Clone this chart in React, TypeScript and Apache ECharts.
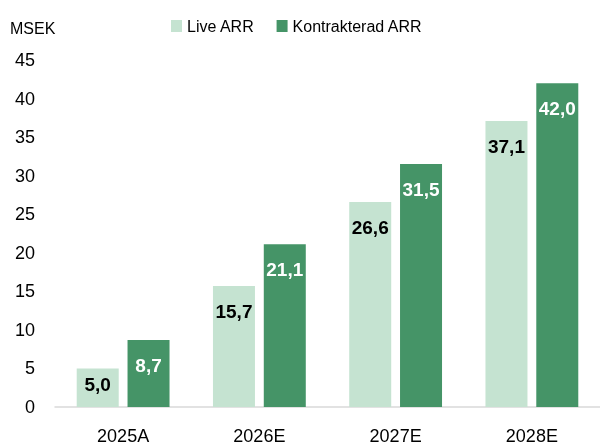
import React, { useEffect, useRef } from "react";
import * as echarts from "echarts";

const categories = ["2025A", "2026E", "2027E", "2028E"];
const liveArr = [5.0, 15.7, 26.6, 37.1];
const kontrakteradArr = [8.7, 21.1, 31.5, 42.0];
const seriesNames = ["Live ARR", "Kontrakterad ARR"];
const unitLabel = "MSEK";

const FONT = "'Liberation Sans', Arial, sans-serif";
const fmt = (v: number) => v.toFixed(1).replace(".", ",");

export default function App() {
  const ref = useRef<HTMLDivElement>(null);
  useEffect(() => {
    if (!ref.current) return;
    const chart = echarts.init(ref.current, undefined, { renderer: "svg" });
    const labelBase = {
      show: true,
      position: "insideTop",
      distance: 16,
      formatter: (p: any) => fmt(p.value),
      fontFamily: FONT,
      fontSize: 19,
      fontWeight: "bold",
    };
    chart.setOption({
      animation: false,
      textStyle: { fontFamily: FONT },
      legend: {
        data: seriesNames,
        left: 166,
        top: 13,
        itemWidth: 11,
        itemHeight: 12,
        itemGap: 22,
        icon: "rect",
        textStyle: { fontFamily: FONT, fontSize: 16, color: "#000" },
      },
      graphic: [
        {
          type: "text",
          left: 10,
          top: 20,
          style: { text: unitLabel, font: `16px ${FONT}`, fill: "#000" },
        },
      ],
      grid: { left: 55, top: 60, width: 548, bottom: 37 },
      xAxis: {
        type: "category",
        data: categories,
        axisLine: { show: true, lineStyle: { color: "#d9d9d9", width: 1.5 } },
        axisTick: { show: false },
        axisLabel: { fontFamily: FONT, fontSize: 18, color: "#000", margin: 20 },
      },
      yAxis: {
        type: "value",
        min: 0,
        max: 45,
        interval: 5,
        splitLine: { show: false },
        axisLine: { show: false },
        axisTick: { show: false },
        axisLabel: { fontFamily: FONT, fontSize: 18, color: "#000", margin: 20 },
      },
      series: [
        {
          name: seriesNames[0],
          type: "bar",
          data: liveArr.map((v, i) =>
            i === 0 ? { value: v, label: { distance: 7 } } : v
          ),
          barWidth: 42,
          barGap: "21%",
          itemStyle: { color: "#c5e3d1" },
          label: { ...labelBase, color: "#000" },
        },
        {
          name: seriesNames[1],
          type: "bar",
          data: kontrakteradArr,
          barWidth: 42,
          itemStyle: { color: "#459467" },
          label: { ...labelBase, color: "#fff" },
        },
      ],
    });
    return () => chart.dispose();
  }, []);
  return (
    <div
      ref={ref}
      style={{ position: "fixed", left: 0, top: 0, width: 600, height: 445 }}
    />
  );
}
